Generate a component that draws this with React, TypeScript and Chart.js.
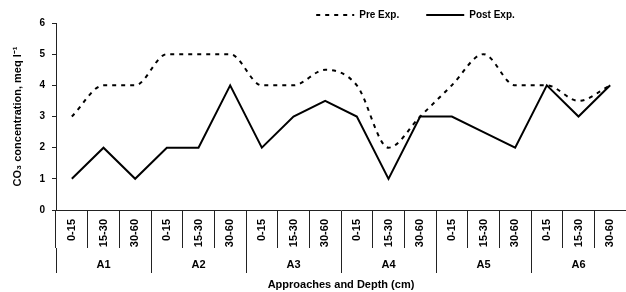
import React, { useEffect, useRef } from "react";
import { Chart, registerables } from "chart.js";

Chart.register(...registerables);

const depths = [
  "0-15", "15-30", "30-60",
  "0-15", "15-30", "30-60",
  "0-15", "15-30", "30-60",
  "0-15", "15-30", "30-60",
  "0-15", "15-30", "30-60",
  "0-15", "15-30", "30-60",
];
const approaches = ["A1", "A2", "A3", "A4", "A5", "A6"];
const preExp = [3, 4, 4, 5, 5, 5, 4, 4, 4.5, 4, 2, 3, 4, 5, 4, 4, 3.5, 4];
const postExp = [1, 2, 1, 2, 2, 4, 2, 3, 3.5, 3, 1, 3, 3, 2.5, 2, 4, 3, 4];
const yTicks = [0, 1, 2, 3, 4, 5, 6];

const FONT = "'Liberation Sans', Arial, sans-serif";
const AXIS_COLOR = "#222";

const legendShift = {
  id: "legendShift",
  afterLayout(chart: any) {
    const l = chart.legend;
    if (!l) return;
    const dx = 99;
    const dy = -17;
    l.left += dx;
    l.right += dx;
    l.top += dy;
  },
};

export default function App() {
  const ref = useRef<HTMLCanvasElement | null>(null);

  useEffect(() => {
    document.body.style.margin = "0";
    if (!ref.current) return;
    const chart = new Chart(ref.current, {
      type: "line",
      data: {
        labels: depths,
        datasets: [
          {
            label: "Pre Exp.",
            data: preExp,
            borderColor: "#000",
            backgroundColor: "#000",
            borderWidth: 2,
            borderDash: [4, 5],
            cubicInterpolationMode: "monotone",
            tension: 0.4,
            pointRadius: 0,
            fill: false,
            xAxisID: "x",
          },
          {
            label: "Post Exp.",
            data: postExp,
            borderColor: "#000",
            backgroundColor: "#000",
            borderWidth: 2,
            tension: 0,
            pointRadius: 0,
            fill: false,
            xAxisID: "x",
          },
        ],
      },
      options: {
        responsive: false,
        animation: false,
        devicePixelRatio: 1,
        layout: { padding: { left: 7, right: 0, top: 0, bottom: 0 } },
        plugins: {
          tooltip: { enabled: false },
          legend: {
            display: true,
            position: "top",
            maxHeight: 23,
            labels: {
              usePointStyle: true,
              pointStyle: "line",
              pointStyleWidth: 38,
              padding: 27,
              color: "#000",
              font: { family: FONT, size: 10, weight: "bold" },
              generateLabels: (c: any) => {
                const items = (Chart.defaults as any).plugins.legend.labels.generateLabels(c);
                items.forEach((it: any) => {
                  const ds = c.data.datasets[it.datasetIndex];
                  it.lineDash = ds.borderDash || [];
                  it.lineWidth = ds.borderWidth;
                  it.strokeStyle = ds.borderColor;
                });
                return items;
              },
            },
          },
        },
        scales: {
          x: {
            type: "category",
            position: "bottom",
            weight: 0,
            offset: true,
            afterFit: (scale: any) => {
              scale.height = 38;
            },
            grid: {
              display: true,
              drawOnChartArea: false,
              offset: true,
              tickLength: 38,
              color: AXIS_COLOR,
              lineWidth: 1,
            },
            border: { display: true, color: AXIS_COLOR, width: 1 },
            ticks: {
              autoSkip: false,
              minRotation: 90,
              maxRotation: 90,
              padding: -29,
              color: "#000",
              font: { family: FONT, size: 11, weight: "bold" },
            },
          },
          x2: {
            type: "category",
            position: "bottom",
            weight: 1,
            labels: approaches,
            offset: true,
            afterFit: (scale: any) => {
              scale.height = 44;
            },
            grid: {
              display: true,
              drawOnChartArea: false,
              offset: true,
              tickLength: 25,
              color: AXIS_COLOR,
              lineWidth: 1,
            },
            border: { display: false },
            ticks: {
              autoSkip: false,
              maxRotation: 0,
              minRotation: 0,
              padding: -14.6,
              color: "#000",
              font: { family: FONT, size: 11, weight: "bold" },
            },
            title: {
              display: true,
              text: "Approaches and Depth (cm)",
              color: "#000",
              font: { family: FONT, size: 11, weight: "bold" },
              padding: { top: 7, bottom: 0 },
            },
          },
          y: {
            type: "linear",
            position: "left",
            min: yTicks[0],
            max: yTicks[yTicks.length - 1],
            afterBuildTicks: (scale: any) => {
              scale.ticks = yTicks.map((v) => ({ value: v }));
            },
            afterFit: (scale: any) => {
              scale.width = 49;
            },
            grid: {
              display: true,
              drawOnChartArea: false,
              tickLength: 4,
              color: AXIS_COLOR,
              lineWidth: 1,
            },
            border: { display: true, color: AXIS_COLOR, width: 1 },
            ticks: {
              padding: 7,
              color: "#000",
              font: { family: FONT, size: 10, weight: "bold" },
            },
            title: {
              display: true,
              text: "CO\u2083 concentration, meq l\u207B\u00B9",
              color: "#000",
              font: { family: FONT, size: 11, weight: "bold" },
              padding: { top: 4, bottom: 15 },
            },
          },
        },
      },
      plugins: [legendShift],
    });
    return () => chart.destroy();
  }, []);

  return (
    <div style={{ width: 626, height: 292 }}>
      <canvas ref={ref} width={626} height={292} style={{ display: "block" }} />
    </div>
  );
}
